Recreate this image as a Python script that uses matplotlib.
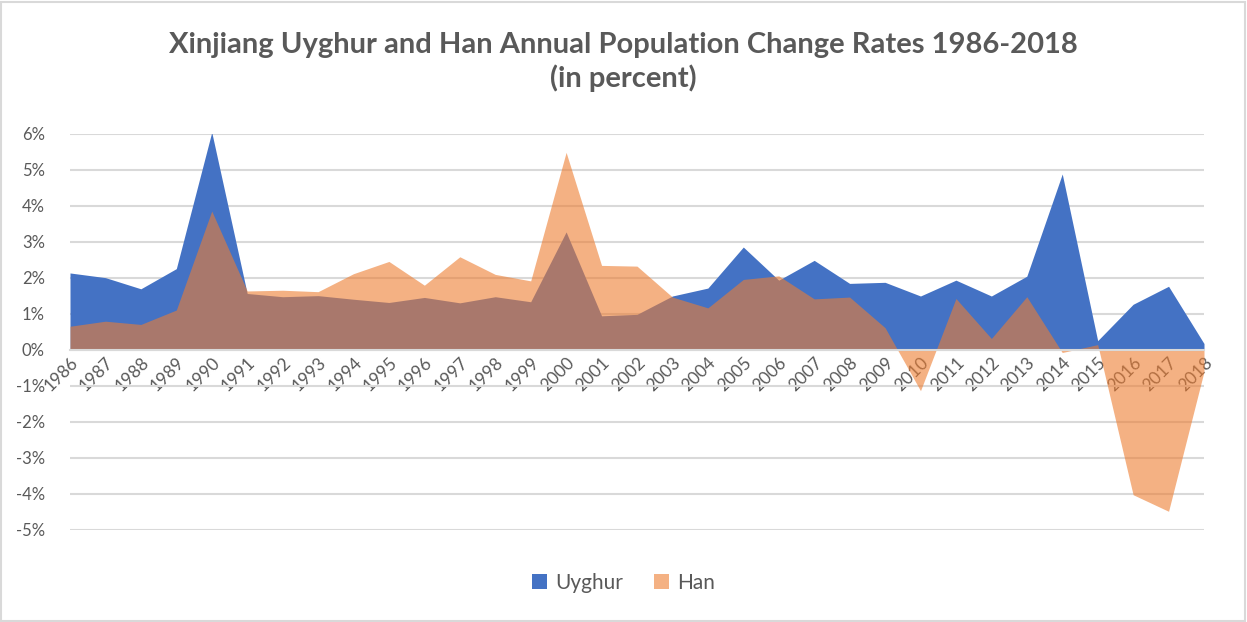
import matplotlib
matplotlib.use("Agg")
import matplotlib.pyplot as plt
import numpy as np
from matplotlib.patches import Patch, Rectangle
from matplotlib.ticker import PercentFormatter

years = list(range(1986, 2019))
uyghur = [2.14, 2.01, 1.70, 2.26, 6.05, 1.57, 1.48, 1.51, 1.41, 1.32,
          1.46, 1.31, 1.48, 1.34, 3.28, 0.95, 0.99, 1.50, 1.72, 2.86,
          1.94, 2.49, 1.85, 1.88, 1.50, 1.94, 1.50, 2.05, 4.89, 0.26,
          1.27, 1.77, 0.18]
han = [0.66, 0.80, 0.71, 1.11, 3.86, 1.64, 1.66, 1.62, 2.12, 2.46,
       1.80, 2.59, 2.10, 1.92, 5.49, 2.35, 2.33, 1.47, 1.17, 1.96,
       2.06, 1.42, 1.47, 0.62, -1.13, 1.43, 0.32, 1.48, -0.07, 0.15,
       -4.02, -4.48, -0.60]
y_ticks = list(range(-5, 7))

title = "Xinjiang Uyghur and Han Annual Population Change Rates 1986-2018\n(in percent)"

plt.rcParams['font.family'] = ['Lato', 'DejaVu Sans']
plt.rcParams['axes.unicode_minus'] = False
text_color = '#595959'
grid_color = '#D9D9D9'
blue = '#4472C4'
orange = '#ED7D31'

W, H = 1247, 622
fig = plt.figure(figsize=(W / 100, H / 100), dpi=100)
ax = fig.add_axes([70 / W, 1 - 530 / H, (1204 - 70) / W, (530 - 134) / H])

ax.fill_between(years, 0, uyghur, color=blue, lw=0, zorder=2)
ax.fill_between(years, 0, han, color=orange, alpha=0.6, lw=0, zorder=3)

# category axis crosses at 0, like excel
for side in ['top', 'right', 'left']:
    ax.spines[side].set_visible(False)
ax.spines['bottom'].set_position(('data', 0))
ax.spines['bottom'].set_color(grid_color)
ax.spines['bottom'].set_linewidth(1.5)
ax.spines['bottom'].set_zorder(4)

ax.set_xlim(years[0], years[-1])
ax.set_ylim(-5, 6)
ax.set_yticks(y_ticks)
ax.yaxis.set_major_formatter(PercentFormatter(decimals=0))
ax.set_xticks(years)
ax.set_xticklabels([str(y) for y in years])

ax.grid(axis='y', color=grid_color, lw=1.5, zorder=0)
ax.set_axisbelow(True)
ax.tick_params(axis='both', length=0, colors=text_color, labelsize=12)
ax.tick_params(axis='y', pad=18)
ax.tick_params(axis='x', pad=3, labelsize=12.5)
for lbl in ax.get_xticklabels():
    lbl.set_rotation(45)
    lbl.set_ha('right')
    lbl.set_va('top')
    lbl.set_rotation_mode('anchor')

fig.text(0.5, 1 - 62 / H, title, ha='center', va='center', fontsize=21,
         fontweight='bold', color=text_color, linespacing=1.3)

handles = [Patch(color=blue, lw=0), Patch(color=orange, alpha=0.6, lw=0)]
fig.legend(handles, ['Uyghur', 'Han'], loc='center', ncol=2,
           bbox_to_anchor=(0.5, 1 - 583 / H), frameon=False, fontsize=15,
           labelcolor=text_color, handlelength=0.7, handleheight=0.7,
           handletextpad=0.4, columnspacing=1.5)

fig.patches.append(Rectangle((0.001, 0.002), 0.997, 0.995, transform=fig.transFigure,
                             fill=False, edgecolor=grid_color, lw=1.5))

fig.savefig('out.png', dpi=100)
